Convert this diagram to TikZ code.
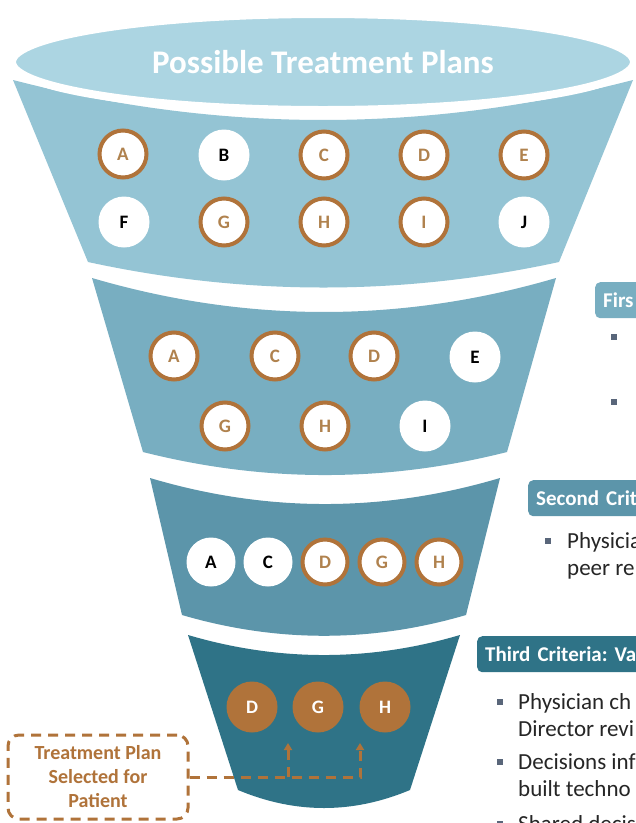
\documentclass[tikz,border=0pt]{standalone}
\usepackage{fontspec}
\setmainfont{Carlito}
\usetikzlibrary{arrows.meta}
\definecolor{topc}{HTML}{ACD5E2}
\definecolor{bandA}{HTML}{94C4D4}
\definecolor{bandB}{HTML}{78AEC1}
\definecolor{bandC}{HTML}{5C95AA}
\definecolor{bandD}{HTML}{2F7387}
\definecolor{brn}{HTML}{B0733A}
\definecolor{brnt}{HTML}{B0824E}
\definecolor{bul}{HTML}{59667A}
\definecolor{txt}{HTML}{262626}
\frenchspacing
\begin{document}
\begin{tikzpicture}[x=1pt,y=-1pt,
  oc/.style={circle,fill=white,draw=brn,line width=4pt,minimum size=47pt,inner sep=0pt,text=brnt,font=\fontsize{19}{19}\selectfont\bfseries},
  wc/.style={circle,fill=white,minimum size=51pt,inner sep=0pt,text=black,font=\fontsize{19}{19}\selectfont\bfseries},
  fc/.style={circle,fill=brn,minimum size=51pt,inner sep=0pt,text=white,font=\fontsize{19}{19}\selectfont\bfseries},
  hdr/.style={rounded corners=5pt,minimum height=36pt,text width=220pt,align=left,inner xsep=8pt,anchor=north west,text=white,font=\fontsize{21}{21}\selectfont\bfseries},
  body/.style={anchor=base west,inner sep=0pt,text=txt,font=\fontsize{23}{23}\selectfont},
  bsq/.style={fill=bul,minimum size=6pt,inner sep=0pt},
  conn/.style={draw=brn,line width=3pt,dash pattern=on 10pt off 7pt},
  tip/.style={-{Triangle[length=7pt,width=8pt]}}]
\useasboundingbox (0,0) rectangle (636,823);
\fill[white] (0,0) rectangle (636,823);
% bands
\fill[bandA] (13,80) .. controls (219.3,133.3) and (426.7,133.3) .. (633,80)
  -- (559,262) .. controls (402,296) and (245,296) .. (88,262) -- cycle;
\fill[bandB] (92,278) .. controls (246.7,323.3) and (401.3,323.3) .. (556,278)
  -- (507,452) .. controls (385.7,482.7) and (264.3,482.7) .. (143,452) -- cycle;
\fill[bandC] (150,478) .. controls (266.7,512.7) and (383.3,512.7) .. (500,478)
  -- (466,615) .. controls (371.3,642.7) and (276.7,642.7) .. (182,615) -- cycle;
\fill[bandD] (188,635) .. controls (278.7,661.7) and (369.3,661.7) .. (460,635)
  -- (410,790) .. controls (352.7,814) and (295.3,814) .. (238,790) -- cycle;
% top ellipse
\filldraw[fill=topc,draw=white,line width=8pt] (323,62) ellipse [x radius=311,y radius=48];
\node[text=white,font=\fontsize{33}{33}\selectfont\bfseries] (title) at (323,62) {Possible Treatment Plans};
% band 1 circles
\node[oc] (a1) at (123,154) {A};
\node[wc] (b1) at (224,155) {B};
\node[oc] (c1) at (324,155) {C};
\node[oc] (d1) at (424,155) {D};
\node[oc] (e1) at (524,155) {E};
\node[wc] (f1) at (124,222) {F};
\node[oc] (g1) at (224,222) {G};
\node[oc] (h1) at (324,222) {H};
\node[oc] (i1) at (424,222) {I};
\node[wc] (j1c) at (524,222) {J};
% band 2 circles
\node[oc] (a2) at (174,356) {A};
\node[oc] (c2) at (275,356) {C};
\node[oc] (d2) at (374,356) {D};
\node[wc] (e2) at (475,357) {E};
\node[oc] (g2) at (225,426) {G};
\node[oc] (h2) at (325,426) {H};
\node[wc] (i2) at (425,426) {I};
% band 3 circles
\node[wc,minimum size=49pt] (a3) at (211,562) {A};
\node[wc,minimum size=49pt] (c3) at (268,562) {C};
\node[oc,minimum size=45pt] (d3) at (325,562) {D};
\node[oc,minimum size=45pt] (g3) at (382,562) {G};
\node[oc,minimum size=45pt] (h3) at (439,562) {H};
% band 4 circles
\node[fc] (d4) at (252,707) {D};
\node[fc] (g4) at (318,707) {G};
\node[fc] (h4) at (385,707) {H};
% selection box and connectors
\node[draw=brn,line width=3pt,dash pattern=on 10pt off 7pt,rounded corners=11pt,
  minimum width=180pt,minimum height=84pt,align=center,text=brn,
  font=\fontsize{20}{24}\selectfont\bfseries] (sel) at (98,777) {Treatment Plan\\Selected for\\Patient};
\coordinate (j1) at (288,777);
\coordinate (j2) at (360,777);
\coordinate (t1) at (288,743);
\coordinate (t2) at (360,743);
\draw[conn,tip] (sel.east) -- (j2) -- (t2);
\draw[conn,tip] (j1) -- (t1);
% right panels
\node[hdr,fill=bandB] (hA) at (595,282) {Firs};
\node[bsq] (qA1) at (614,337) {};
\node[bsq] (qA2) at (614,402) {};
\node[hdr,fill=bandC] (hB) at (528,480) {Second Crit};
\node[bsq] (qB1) at (548,541) {};
\node[body] (pB1) at (567,548) {Physicia};
\node[body] (pB2) at (567,575) {peer re};
\node[hdr,fill=bandD] (hC) at (477,636) {Third Criteria: Va};
\node[bsq] (qC1) at (500,702) {};
\node[body] (pC1) at (518,709) {Physician ch};
\node[body] (pC2) at (518,736) {Director revi};
\node[bsq] (qC2) at (500,762) {};
\node[body] (pC3) at (518,769) {Decisions inf};
\node[body] (pC4) at (518,796) {built techno};
\node[bsq] (qC3) at (500,824) {};
\node[body] (pC5) at (518,831) {Shared decisi};
\end{tikzpicture}
\end{document}
